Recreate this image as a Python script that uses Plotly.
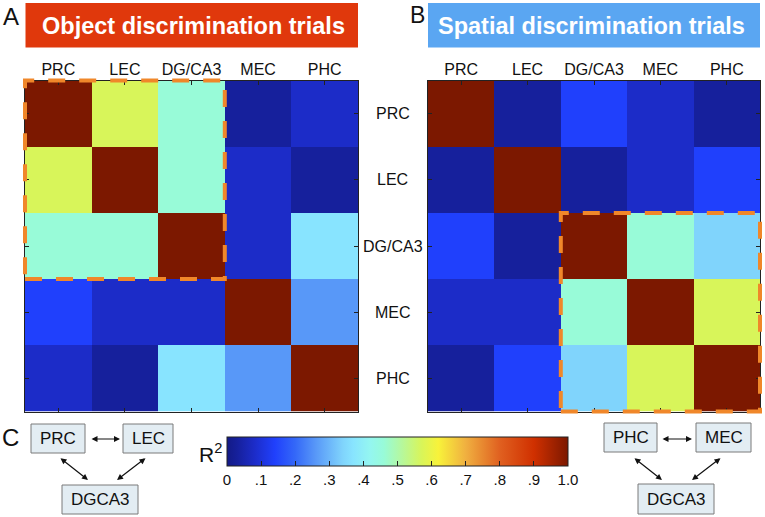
import plotly.graph_objects as go

# ---------------- data ----------------
regions = ["PRC", "LEC", "DG/CA3", "MEC", "PHC"]

# R^2 between regions, object discrimination trials (rows top->bottom, cols left->right)
object_r2 = [
    [1.00, 0.57, 0.46, 0.03, 0.08],
    [0.57, 1.00, 0.46, 0.08, 0.03],
    [0.46, 0.46, 1.00, 0.08, 0.37],
    [0.14, 0.08, 0.08, 1.00, 0.26],
    [0.08, 0.03, 0.37, 0.26, 1.00],
]
# R^2 between regions, spatial discrimination trials
spatial_r2 = [
    [1.00, 0.03, 0.14, 0.08, 0.03],
    [0.03, 1.00, 0.03, 0.08, 0.14],
    [0.14, 0.03, 1.00, 0.46, 0.34],
    [0.08, 0.08, 0.46, 1.00, 0.57],
    [0.03, 0.14, 0.34, 0.57, 1.00],
]
object_group = ["PRC", "LEC", "DG/CA3"]
spatial_group = ["DG/CA3", "MEC", "PHC"]

cbar_ticks = [0, 0.1, 0.2, 0.3, 0.4, 0.5, 0.6, 0.7, 0.8, 0.9, 1.0]
cbar_ticktext = ["0", ".1", ".2", ".3", ".4", ".5", ".6", ".7", ".8", ".9", "1.0"]

# ---------------- geometry helpers ----------------
W, H = 765, 517
def px(x): return x / W
def py(y): return 1 - y / H

FONT = "Liberation Sans, Arial, Helvetica, sans-serif"

colorscale = [
    [0.00, "#131a86"], [0.03, "#16209c"], [0.08, "#1c2cc8"], [0.14, "#2040fc"],
    [0.20, "#3468f8"], [0.26, "#5898f8"], [0.34, "#80d4fc"], [0.37, "#88e4ff"],
    [0.42, "#94f6f0"], [0.46, "#98fbd8"], [0.51, "#b4f8a0"], [0.57, "#d8f55a"],
    [0.62, "#f8f23a"], [0.70, "#f0b040"], [0.80, "#e06020"], [0.90, "#d03000"],
    [1.00, "#7c1800"],
]

fig = go.Figure()
fig.add_trace(go.Heatmap(z=object_r2, x=regions, y=regions, coloraxis="coloraxis",
                         xaxis="x", yaxis="y", hoverinfo="skip"))
fig.add_trace(go.Heatmap(z=spatial_r2, x=regions, y=regions, coloraxis="coloraxis",
                         xaxis="x2", yaxis="y2", hoverinfo="skip"))

ax_common = dict(showline=True, linecolor="#222", linewidth=1, mirror="ticks",
                 ticks="inside", ticklen=4, tickcolor="#222", showgrid=False,
                 zeroline=False, fixedrange=True)
ydom = [py(411.5), py(80.5)]
fig.update_layout(
    width=W, height=H, margin=dict(l=0, r=0, t=0, b=0),
    paper_bgcolor="white", plot_bgcolor="white", showlegend=False,
    font=dict(family=FONT, color="#111"),
    xaxis=dict(domain=[px(25), px(358)], side="top", anchor="y",
               tickfont=dict(size=16, family=FONT), ticklabelstandoff=-2, **ax_common),
    yaxis=dict(domain=ydom, autorange="reversed", anchor="x", showticklabels=False, **ax_common),
    xaxis2=dict(domain=[px(428), px(760)], side="top", anchor="y2",
                tickfont=dict(size=16, family=FONT), ticklabelstandoff=-2, **ax_common),
    yaxis2=dict(domain=ydom, autorange="reversed", anchor="x2", showticklabels=False, **ax_common),
    coloraxis=dict(
        colorscale=colorscale, cmin=0, cmax=1,
        colorbar=dict(orientation="h", x=px(397.5), xanchor="center", y=py(437), yanchor="top",
                      len=341 / W, lenmode="fraction", thickness=29, thicknessmode="pixels",
                      xpad=0, ypad=0, outlinewidth=1, outlinecolor="#222",
                      ticks="inside", ticklen=5, tickcolor="#222",
                      tickvals=cbar_ticks, ticktext=cbar_ticktext,
                      tickfont=dict(size=15, family=FONT, color="#111")),
    ),
)

shapes = []
annotations = []

def text(t, x, y, size, color="#111", yref="paper"):
    annotations.append(dict(text=t, xref="paper", yref=yref, x=px(x),
                            y=(py(y) if yref == "paper" else y),
                            xanchor="center", yanchor="middle", showarrow=False,
                            font=dict(size=size, color=color, family=FONT)))

# colorbar top inner ticks
cb_x0, cb_x1 = 227, 568
for v in cbar_ticks[1:-1]:
    xx = cb_x0 + v * (cb_x1 - cb_x0)
    shapes.append(dict(type="line", xref="paper", yref="paper", x0=px(xx), x1=px(xx),
                       y0=py(437), y1=py(442), line=dict(color="#222", width=1)))

# dashed group outlines (domain refs -> not clipped)
n = len(regions)
def group_rect(group, xr, yr):
    i0 = regions.index(group[0]); i1 = regions.index(group[-1]) + 1
    return dict(type="rect", xref=xr, yref=yr, x0=i0 / n, x1=i1 / n,
                y0=1 - i1 / n, y1=1 - i0 / n,
                line=dict(color="#f0872a", width=4, dash="17px,14px"), layer="above")
shapes.append(group_rect(object_group, "x domain", "y domain"))
shapes.append(group_rect(spatial_group, "x2 domain", "y2 domain"))

# title boxes
shapes.append(dict(type="rect", xref="paper", yref="paper", x0=px(25.5), x1=px(358),
                   y0=py(47.5), y1=py(3), fillcolor="#e0380c", line=dict(width=0), layer="below"))
shapes.append(dict(type="rect", xref="paper", yref="paper", x0=px(428), x1=px(760),
                   y0=py(47.5), y1=py(3), fillcolor="#5aa6f2", line=dict(width=0), layer="below"))
text("<b>Object discrimination trials</b>", 193, 25.5, 23.5, "white")
text("<b>Spatial discrimination trials</b>", 591, 25.5, 23.5, "white")

# panel letters
text("A", 11, 17, 24)
text("B", 418, 15, 23)
text("C", 10, 437, 24)

# row labels between panels (placed on the y2 category axis)
for r in regions:
    text(r, 393, r, 16, yref="y2")

# R^2 label
text("R<sup>2</sup>", 210, 453, 21)

# flow diagrams
def box(x0, x1, y0, y1, label):
    shapes.append(dict(type="rect", xref="paper", yref="paper", x0=px(x0), x1=px(x1),
                       y0=py(y1), y1=py(y0), fillcolor="#e3edf3",
                       line=dict(color="#7a7a7a", width=1)))
    text(label, (x0 + x1) / 2, (y0 + y1) / 2, 17)

def arrow(xs, ys, xe, ye):
    annotations.append(dict(text="", xref="paper", yref="paper", x=px(xe), y=py(ye),
                            ax=xs - xe, ay=ys - ye, axref="pixel", ayref="pixel",
                            showarrow=True, arrowside="end+start", arrowhead=2,
                            startarrowhead=2, arrowsize=1, startarrowsize=1,
                            arrowwidth=1.2, arrowcolor="#111", standoff=0, startstandoff=0))

box(31, 85, 424, 453, "PRC")
box(123, 173, 424, 453, "LEC")
box(62, 138, 485, 514, "DGCA3")
arrow(90, 439, 120, 439)
arrow(59, 457, 88, 480)
arrow(147, 457, 117, 480)

box(604, 657, 423, 452, "PHC")
box(696, 751, 423, 452, "MEC")
box(638, 714, 484, 514, "DGCA3")
arrow(661, 439, 692, 439)
arrow(633, 457, 662, 480)
arrow(722, 457, 692, 480)

fig.update_layout(shapes=shapes, annotations=annotations)
fig.write_html("out.html", config={"displayModeBar": False},
               post_script="document.body.style.margin='0';")
